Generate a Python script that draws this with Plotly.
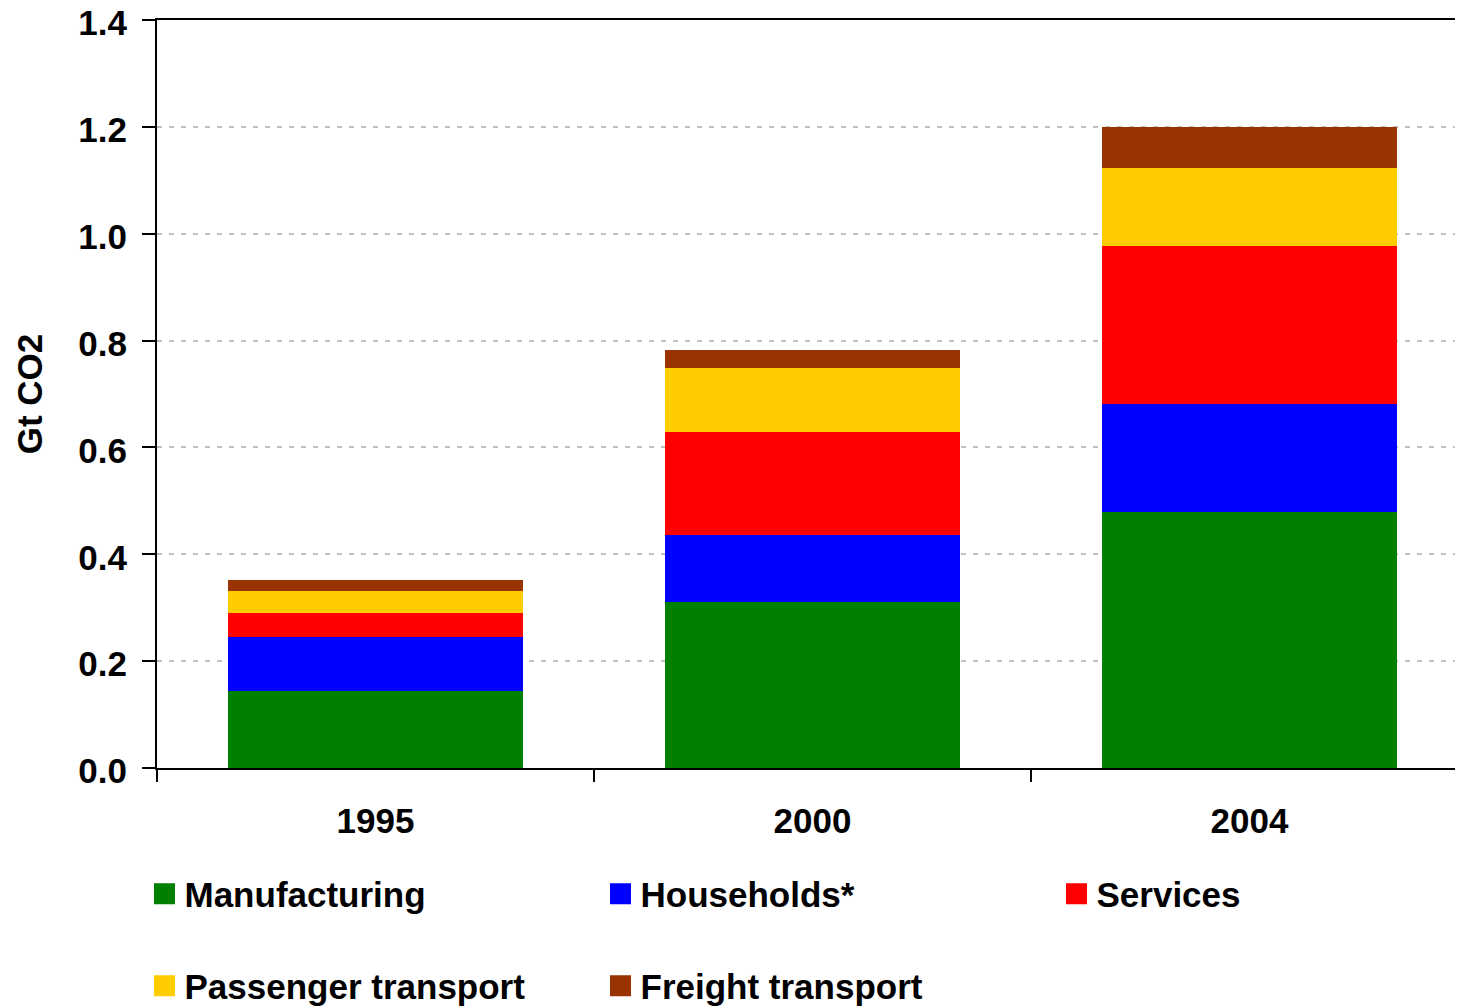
import plotly.graph_objects as go

years = ["1995", "2000", "2004"]
manufacturing = [0.145, 0.310, 0.479]
households = [0.101, 0.127, 0.202]
services = [0.045, 0.191, 0.296]
passenger = [0.041, 0.120, 0.146]
freight = [0.019, 0.034, 0.076]

series_names = ["Manufacturing", "Households*", "Services", "Passenger transport", "Freight transport"]
series_values = [manufacturing, households, services, passenger, freight]
colors = ["#008000", "#0000FF", "#FF0000", "#FFCC00", "#993300"]
legend_ids = ["legend", "legend", "legend", "legend2", "legend2"]

FONT = dict(family="Liberation Sans, Arial, sans-serif", size=35, color="black", weight="bold")

fig = go.Figure()
for name, vals, col in zip(series_names, series_values, colors):
    fig.add_trace(go.Bar(x=years, y=vals, name=name, marker=dict(color=col, line=dict(width=0)),
                         showlegend=False, legendgroup=name))
for name, col, lg in zip(series_names, colors, legend_ids):
    fig.add_trace(go.Scatter(x=[None], y=[None], mode="markers", name=name, legend=lg, legendgroup=name,
                             marker=dict(symbol="square", size=16, color=col, line=dict(width=5, color=col))))

# page body adds an 8px offset, so the figure is 8px smaller than the window
OFF = 8
W, H = 1463 - OFF, 1007 - OFF
ml, mr, mt, mb = 157 - OFF, 0, 20 - OFF, H - (768 - OFF)
plot_w = W - ml - mr
plot_h = H - mt - mb
cat_w = 437
x_hi = -0.5 + plot_w / cat_w

def py(p):
    # p in window pixels
    return (H - mb - (p - OFF)) / plot_h

def px(p):
    return ((p - OFF) - ml) / plot_w

fig.update_layout(
    width=W, height=H,
    margin=dict(l=ml, r=mr, t=mt, b=mb, autoexpand=False),
    barmode="stack", bargap=0.327,
    plot_bgcolor="white", paper_bgcolor="white",
    font=FONT,
    xaxis=dict(type="category", range=[-0.5, x_hi], showline=True, linecolor="black", linewidth=2,
               mirror=True, ticks="outside", tickson="boundaries", ticklen=12, tickwidth=2,
               tickcolor="black", showgrid=False, tickfont=FONT, ticklabelstandoff=21),
    yaxis=dict(range=[0, 1.4], dtick=0.2, tickformat=".1f", showline=True, linecolor="black",
               linewidth=2, ticks="outside", ticklen=13, tickwidth=2, tickcolor="black",
               showgrid=True, gridcolor="#C0C0C0", gridwidth=2, griddash="5px,7px",
               tickfont=FONT, ticklabelstandoff=8, ticklabelshift=3, zeroline=False,
               ticklabeloverflow="allow",
               title=dict(text="Gt CO2", font=FONT, standoff=25)),
    legend=dict(orientation="h", x=px(144.5), xanchor="left", y=py(894), yanchor="middle",
                font=FONT, entrywidth=411, entrywidthmode="pixels", bgcolor="rgba(0,0,0,0)"),
    legend2=dict(orientation="h", x=px(144.5), xanchor="left", y=py(986), yanchor="middle",
                 font=FONT, entrywidth=411, entrywidthmode="pixels", bgcolor="rgba(0,0,0,0)"),
)

fig.write_html("out.html")
